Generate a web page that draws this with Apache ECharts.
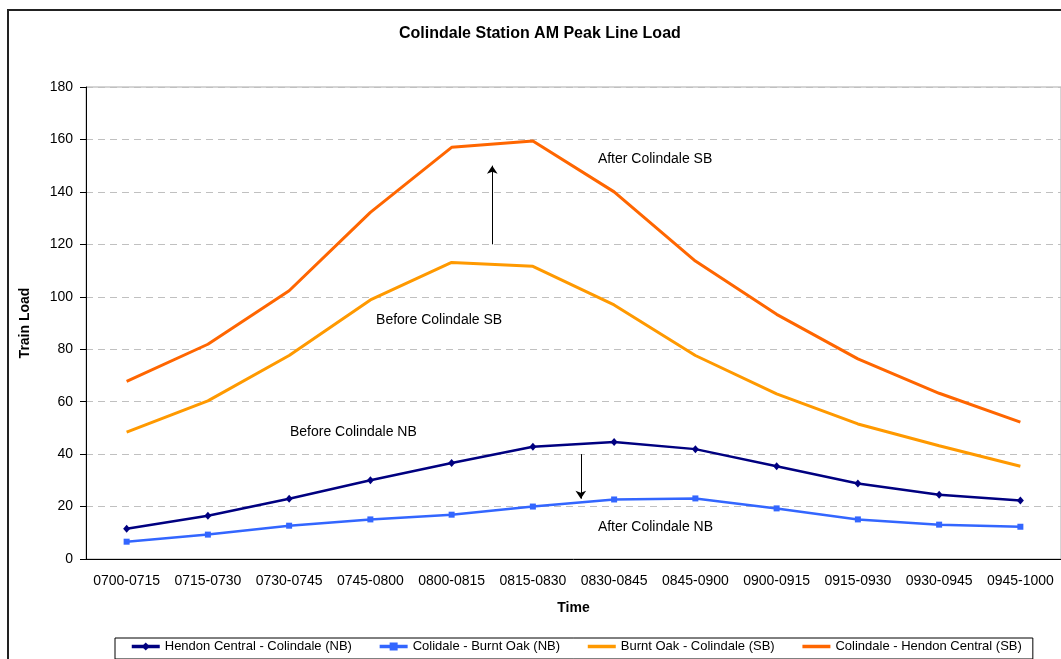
<!DOCTYPE html>
<html>
<head>
<meta charset="utf-8">
<title>Colindale Station AM Peak Line Load</title>
<script src="https://cdn.jsdelivr.net/npm/echarts@6/dist/echarts.min.js"></script>
<style>
  html, body { margin: 0; padding: 0; background: #fff; overflow: hidden; }
  #frame { position: absolute; left: 7px; top: 9px; width: 1100px; height: 700px; border: 2px solid #222; }
  #main { position: absolute; left: 0; top: 0; width: 1061px; height: 659px; }
</style>
</head>
<body>
<div id="frame"></div>
<div id="main"></div>
<script>
// 时间段
var times = ['0700-0715', '0715-0730', '0730-0745', '0745-0800', '0800-0815', '0815-0830',
  '0830-0845', '0845-0900', '0900-0915', '0915-0930', '0930-0945', '0945-1000'];

// 各线路负载
var hendonColindaleNB = [11.5, 16.5, 23.0, 30.0, 36.6, 42.8, 44.6, 41.9, 35.4, 28.8, 24.5, 22.3];
var colindaleBurntOakNB = [6.6, 9.3, 12.7, 15.1, 16.9, 20.0, 22.7, 23.1, 19.3, 15.1, 13.1, 12.3];
var burntOakColindaleSB = [48.4, 60.3, 77.6, 98.8, 113.1, 111.6, 96.9, 77.6, 63.0, 51.5, 43.2, 35.4];
var colindaleHendonSB = [67.7, 81.9, 102.3, 132.2, 157.0, 159.4, 140.0, 113.6, 93.3, 76.3, 63.2, 52.2];

// 注释文字 [类别位置, 数值, 文字]
var notes = [
  [5.8, 152.5, 'After Colindale SB'],
  [3.07, 91.2, 'Before Colindale SB'],
  [2.01, 48.5, 'Before Colindale NB'],
  [5.8, 12.3, 'After Colindale NB']
];
// 箭头 [类别位置, 起点, 终点]
var arrows = [
  [4.5, 120, 150],
  [5.59, 40, 23]
];

var font = 'Liberation Sans, Arial, sans-serif';

(function () {
  var myChart = echarts.init(document.getElementById('main'));
  var option = {
    animation: false,
    textStyle: { fontFamily: font },
    title: {
      text: 'Colindale Station AM Peak Line Load',
      left: 399,
      top: 26,
      padding: 0,
      textStyle: { fontSize: 16, fontWeight: 'bold', color: '#000', fontFamily: font }
    },
    legend: {
      data: [
        { name: 'Hendon Central - Colindale (NB)' },
        { name: 'Colidale - Burnt Oak (NB)' },
        // SB线条图例只显示线，不显示点
        { name: 'Burnt Oak - Colindale (SB)', itemStyle: { opacity: 0 } },
        { name: 'Colindale - Hendon Central (SB)', itemStyle: { opacity: 0 } }
      ],
      left: 115,
      top: 638,
      padding: [2, 11, 6, 15],
      borderColor: '#000',
      borderWidth: 1,
      itemWidth: 28,
      itemHeight: 10,
      itemGap: 26,
      lineStyle: { width: 3.5 },
      textStyle: { fontSize: 13, color: '#000', fontFamily: font }
    },
    grid: {
      left: 86,
      right: 0,
      top: 87,
      bottom: 100,
      show: true,
      borderColor: '#aaa',
      borderWidth: 1
    },
    xAxis: [{
      type: 'category',
      data: times,
      name: 'Time',
      nameLocation: 'middle',
      nameGap: 42,
      nameTextStyle: { fontSize: 14, fontWeight: 'bold', color: '#000' },
      axisLine: { lineStyle: { color: '#000', width: 1 } },
      axisTick: { length: 5, lineStyle: { color: '#000' } },
      axisLabel: { color: '#000', fontSize: 14, margin: 15, interval: 0 }
    }, {
      // 注释用的隐藏轴
      type: 'value',
      min: -0.5,
      max: 11.5,
      show: false
    }],
    yAxis: {
      type: 'value',
      min: 0,
      max: 180,
      interval: 20,
      name: 'Train Load',
      nameLocation: 'middle',
      nameRotate: 90,
      nameGap: 54,
      nameTextStyle: { fontSize: 14, fontWeight: 'bold', color: '#000' },
      axisLine: { show: true, onZero: false, lineStyle: { color: '#000', width: 1 } },
      axisTick: { show: true, length: 6, lineStyle: { color: '#000' } },
      axisLabel: { color: '#000', fontSize: 14, margin: 13 },
      splitLine: { lineStyle: { color: '#c0c0c0', type: [7, 5] } }
    },
    series: [{
      name: 'Hendon Central - Colindale (NB)',
      type: 'line',
      data: hendonColindaleNB,
      symbol: 'diamond',
      symbolSize: [7, 8],
      itemStyle: { color: '#000080' },
      lineStyle: { color: '#000080', width: 2.5 }
    }, {
      name: 'Colidale - Burnt Oak (NB)',
      type: 'line',
      data: colindaleBurntOakNB,
      symbol: 'rect',
      symbolSize: 6,
      itemStyle: { color: '#3366ff' },
      lineStyle: { color: '#3366ff', width: 2.5 }
    }, {
      name: 'Burnt Oak - Colindale (SB)',
      type: 'line',
      data: burntOakColindaleSB,
      symbol: 'none',
      itemStyle: { color: '#ff9900' },
      lineStyle: { color: '#ff9900', width: 3 }
    }, {
      name: 'Colindale - Hendon Central (SB)',
      type: 'line',
      data: colindaleHendonSB,
      symbol: 'none',
      itemStyle: { color: '#ff6600' },
      lineStyle: { color: '#ff6600', width: 3 }
    }, {
      // 箭头和文字注释
      type: 'line',
      xAxisIndex: 1,
      data: [],
      silent: true,
      markLine: {
        silent: true,
        symbol: ['none', 'arrow'],
        symbolSize: 8,
        label: { show: false },
        lineStyle: { color: '#000', width: 1, type: 'solid' },
        data: arrows.map(function (a) {
          return [{ coord: [a[0], a[1]] }, { coord: [a[0], a[2]] }];
        })
      },
      markPoint: {
        silent: true,
        symbol: 'rect',
        symbolSize: 0,
        label: {
          show: true,
          position: 'right',
          distance: 0,
          color: '#000',
          fontSize: 14,
          formatter: '{b}'
        },
        data: notes.map(function (n) {
          return { coord: [n[0], n[1]], name: n[2] };
        })
      }
    }]
  };
  window.addEventListener('resize', function () {
    myChart.resize();
  });
  myChart.setOption(option);
})();
</script>
</body>
</html>
